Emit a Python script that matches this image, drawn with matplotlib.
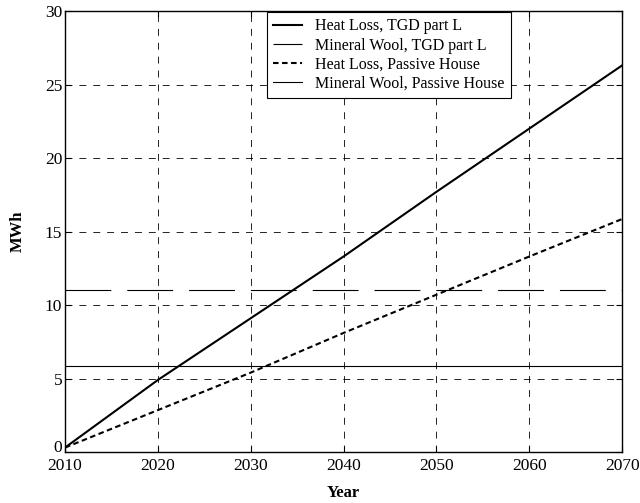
import matplotlib
matplotlib.use("Agg")
import matplotlib.pyplot as plt
import matplotlib.transforms as mtransforms

plt.rcParams['font.family'] = ['Liberation Serif', 'DejaVu Serif']
plt.rcParams['lines.scale_dashes'] = False

years = [2010, 2020, 2030, 2040, 2050, 2060, 2070]
heat_loss_tgd = [0.3, 4.9, 9.1, 13.3, 17.7, 22.0, 26.3]
heat_loss_passive = [0.3, 2.85, 5.4, 8.1, 10.7, 13.3, 15.85]
mineral_wool_tgd = 11.0
mineral_wool_passive = 5.85

fig = plt.figure(figsize=(6.4, 5.03), dpi=100)
ax = fig.add_axes([0.1016, 0.1014, 0.8704, 0.8766])

ax.plot(years, heat_loss_tgd, color='black', lw=1.5, label='Heat Loss, TGD part L')
ax.plot([years[0], years[-1]], [mineral_wool_tgd] * 2, color='black', lw=0.8,
        dashes=(33, 11.5), label='Mineral Wool, TGD part L')
ax.plot(years, heat_loss_passive, color='black', lw=1.5, dashes=(4, 2.5),
        label='Heat Loss, Passive House')
ax.plot([years[0], years[-1]], [mineral_wool_passive] * 2, color='black', lw=0.8,
        label='Mineral Wool, Passive House')

ax.set_xlim(2010, 2070)
ax.set_ylim(0, 30)
ax.set_xticks(range(2010, 2071, 10))
ax.set_yticks(range(0, 31, 5))
ax.grid(True, color='black', lw=0.6, linestyle=(0, (5, 5)))
ax.tick_params(direction='in', top=True, right=True, length=4, labelsize=12.5,
               colors='black', pad=2)
ax.tick_params(axis='x', pad=4)
for s in ax.spines.values():
    s.set_linewidth(1.0)

# lift the bottom y tick label a little so it clears the first year label
fig.canvas.draw()
zero_label = ax.get_yticklabels()[0]
zero_label.set_transform(zero_label.get_transform() +
                         mtransforms.ScaledTranslation(0, 4 / 72, fig.dpi_scale_trans))

ax.set_xlabel('Year', fontsize=12, fontweight='bold', labelpad=8)
ax.set_ylabel('MWh', fontsize=12, fontweight='bold', labelpad=14)

leg = ax.legend(loc='upper right', bbox_to_anchor=(0.80, 0.998), borderaxespad=0,
                fontsize=11.5, handlelength=1.8, fancybox=False, framealpha=1,
                edgecolor='black', labelspacing=0.2, borderpad=0.4,
                handletextpad=0.8)
leg.get_frame().set_linewidth(0.8)

fig.savefig('out.png', dpi=100)
